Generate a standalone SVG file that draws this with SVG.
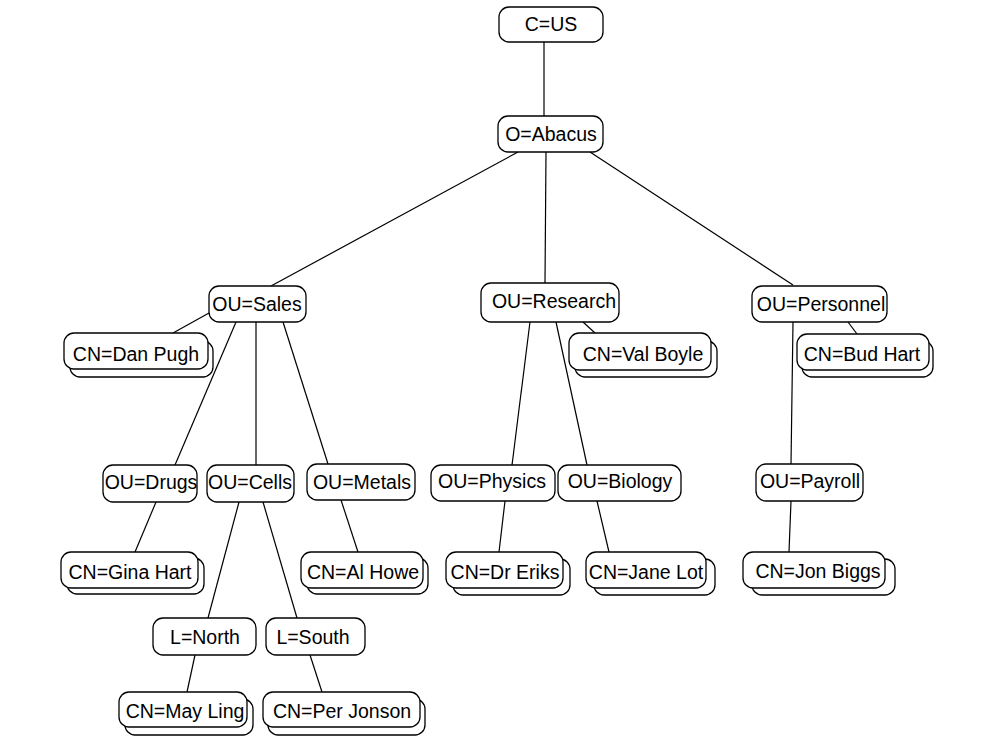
<svg xmlns="http://www.w3.org/2000/svg" width="991" height="753" viewBox="0 0 991 753">
<style>
.b{fill:#fff;stroke:#000;stroke-width:1.3}
.s{fill:#fff;stroke:#000;stroke-width:1.3}
text{font-family:"Liberation Sans",Arial,sans-serif;font-size:19.5px;fill:#000;text-anchor:middle}
#connectors line{stroke:#000;stroke-width:1.2}
</style>
<rect width="991" height="753" fill="#fff"/>
<g id="connectors">
<line x1="544" y1="42" x2="544" y2="116"/>
<line x1="518" y1="152" x2="271" y2="286"/>
<line x1="546" y1="152" x2="545" y2="283"/>
<line x1="590" y1="152" x2="793" y2="285"/>
<line x1="209" y1="313" x2="173" y2="333"/>
<line x1="236" y1="322" x2="175" y2="465"/>
<line x1="256" y1="322" x2="256" y2="465"/>
<line x1="283" y1="322" x2="328" y2="464"/>
<line x1="583" y1="322" x2="595" y2="333"/>
<line x1="530" y1="322" x2="512" y2="465"/>
<line x1="556" y1="322" x2="587" y2="465"/>
<line x1="848" y1="322" x2="857" y2="334"/>
<line x1="793" y1="322" x2="791" y2="464"/>
<line x1="156" y1="502" x2="135" y2="552"/>
<line x1="239" y1="502" x2="208" y2="618"/>
<line x1="263" y1="502" x2="297" y2="618"/>
<line x1="341" y1="500" x2="358" y2="552"/>
<line x1="505" y1="501" x2="499" y2="552"/>
<line x1="597" y1="501" x2="609" y2="552"/>
<line x1="791" y1="501" x2="789" y2="552"/>
<line x1="195" y1="655" x2="187" y2="692"/>
<line x1="310" y1="655" x2="322" y2="692"/>
</g>
<g id="n-cus"><rect class="b" x="499" y="7" width="104" height="35" rx="10"/><text x="551" y="31">C=US</text></g>
<g id="n-abacus"><rect class="b" x="498" y="116" width="105" height="36" rx="10"/><text x="551" y="141">O=Abacus</text></g>
<g id="n-sales"><rect class="b" x="209" y="286" width="97" height="36" rx="10"/><text x="257" y="311">OU=Sales</text></g>
<g id="n-research"><rect class="b" x="481" y="283" width="138" height="39" rx="10"/><text x="554" y="308">OU=Research</text></g>
<g id="n-personnel"><rect class="b" x="752" y="286" width="135" height="36" rx="10"/><text x="821" y="311">OU=Personnel</text></g>
<g id="n-danpugh"><rect class="s" x="70" y="341" width="143" height="36" rx="10"/><rect class="b" x="64" y="333" width="144" height="36" rx="10"/><text x="136" y="361">CN=Dan Pugh</text></g>
<g id="n-valboyle"><rect class="s" x="575" y="341" width="142" height="36" rx="10"/><rect class="b" x="569" y="333" width="142" height="37" rx="10"/><text x="643" y="361">CN=Val Boyle</text></g>
<g id="n-budhart"><rect class="s" x="802" y="341" width="131" height="36" rx="10"/><rect class="b" x="797" y="334" width="132" height="36" rx="10"/><text x="862" y="361">CN=Bud Hart</text></g>
<g id="n-drugs"><rect class="b" x="103" y="465" width="94" height="37" rx="10"/><text x="151" y="489">OU=Drugs</text></g>
<g id="n-cells"><rect class="b" x="207" y="465" width="87" height="37" rx="10"/><text x="250" y="489">OU=Cells</text></g>
<g id="n-metals"><rect class="b" x="307" y="464" width="108" height="36" rx="10"/><text x="362" y="489">OU=Metals</text></g>
<g id="n-physics"><rect class="b" x="431" y="465" width="124" height="36" rx="10"/><text x="492" y="488">OU=Physics</text></g>
<g id="n-biology"><rect class="b" x="558" y="465" width="123" height="36" rx="10"/><text x="620" y="488">OU=Biology</text></g>
<g id="n-payroll"><rect class="b" x="756" y="464" width="107" height="37" rx="10"/><text x="810" y="488">OU=Payroll</text></g>
<g id="n-ginahart"><rect class="s" x="67" y="558" width="137" height="36" rx="10"/><rect class="b" x="61" y="552" width="137" height="36" rx="10"/><text x="130" y="579">CN=Gina Hart</text></g>
<g id="n-alhowe"><rect class="s" x="307" y="558" width="121" height="36" rx="10"/><rect class="b" x="301" y="552" width="122" height="36" rx="10"/><text x="363" y="579">CN=Al Howe</text></g>
<g id="n-dreriks"><rect class="s" x="453" y="559" width="117" height="36" rx="10"/><rect class="b" x="446" y="552" width="117" height="36" rx="10"/><text x="505" y="579">CN=Dr Eriks</text></g>
<g id="n-janelot"><rect class="s" x="594" y="559" width="121" height="36" rx="10"/><rect class="b" x="586" y="552" width="120" height="36" rx="10"/><text x="646" y="579">CN=Jane Lot</text></g>
<g id="n-jonbiggs"><rect class="s" x="752" y="559" width="143" height="36" rx="10"/><rect class="b" x="743" y="552" width="142" height="36" rx="10"/><text x="818" y="578">CN=Jon Biggs</text></g>
<g id="n-north"><rect class="b" x="153" y="618" width="103" height="37" rx="10"/><text x="205" y="644">L=North</text></g>
<g id="n-south"><rect class="b" x="266" y="618" width="99" height="37" rx="10"/><text x="313" y="644">L=South</text></g>
<g id="n-mayling"><rect class="s" x="125" y="699" width="128" height="36" rx="10"/><rect class="b" x="119" y="692" width="128" height="35" rx="10"/><text x="185" y="718">CN=May Ling</text></g>
<g id="n-perjonson"><rect class="s" x="268" y="699" width="157" height="36" rx="10"/><rect class="b" x="263" y="692" width="157" height="35" rx="10"/><text x="342" y="718">CN=Per Jonson</text></g>
</svg>
